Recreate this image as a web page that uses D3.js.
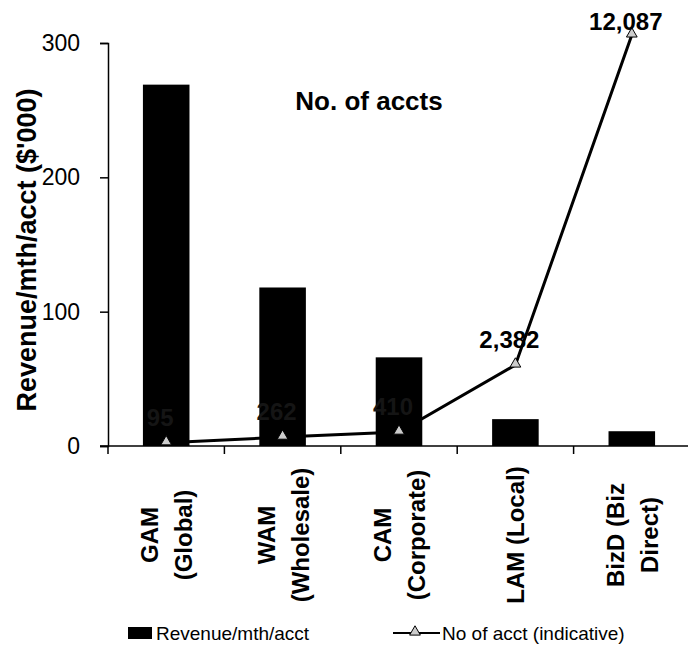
<!DOCTYPE html>
<html>
<head>
<meta charset="utf-8">
<script src="https://cdn.jsdelivr.net/npm/d3@7"></script>
<style>
body { margin: 0; background: #fff; }
svg { display: block; font-family: "Liberation Sans", Arial, sans-serif; }
</style>
</head>
<body>
<svg id="chart" width="688" height="654"></svg>
<script>
"use strict"

// data
var categories = ["GAM (Global)", "WAM (Wholesale)", "CAM (Corporate)", "LAM (Local)", "BizD (Biz Direct)"];
var catLines = [["GAM", "(Global)"], ["WAM", "(Wholesale)"], ["CAM", "(Corporate)"], ["LAM (Local)"], ["BizD (Biz", "Direct)"]];
var revenue = [269, 118, 66, 20, 11];
var accounts = [95, 262, 410, 2382, 12087];
var yTicks = [0, 100, 200, 300];

var svg = d3.select("#chart");

var x = d3.scaleBand()
	.domain(categories)
	.range([108, 690])
	.paddingInner(0.6)
	.paddingOuter(0.3);
var y = d3.scaleLinear().domain([0, 300]).range([446, 43]);
// hidden secondary scale for the account counts
var y2 = d3.scaleLinear().domain([0, 11850]).range([446, 43]);

// bars
svg.append("g").selectAll("rect")
	.data(revenue)
	.enter().append("rect")
	.attr("x", function(d, i) { return x(categories[i]); })
	.attr("y", function(d) { return y(d); })
	.attr("width", x.bandwidth())
	.attr("height", function(d) { return y(0) - y(d); })
	.attr("fill", "#000");

// y axis
var yAxis = svg.append("g")
	.attr("transform", "translate(108,0)")
	.call(d3.axisLeft(y).tickValues(yTicks).tickSize(8).tickPadding(20));
yAxis.select(".domain").attr("stroke", "#000").attr("stroke-width", 1.5);
yAxis.selectAll(".tick line").attr("stroke-width", 1.5);
yAxis.selectAll(".tick text")
	.style("font-size", "23px")
	.attr("fill", "#000");

svg.append("text")
	.attr("transform", "translate(36,250) rotate(-90)")
	.attr("text-anchor", "middle")
	.style("font-size", "27px")
	.style("font-weight", "bold")
	.text("Revenue/mth/acct ($'000)");

// x axis with ticks on band edges
var step = x.step();
var edges = categories.map(function(c) { return x(c) - (step - x.bandwidth()) / 2; });
edges.push(edges[edges.length - 1] + step);
var xg = svg.append("g");
xg.append("line")
	.attr("x1", 100).attr("x2", edges[edges.length - 1])
	.attr("y1", y(0)).attr("y2", y(0))
	.attr("stroke", "#000").attr("stroke-width", 1.5);
xg.selectAll("line.tk")
	.data(edges)
	.enter().append("line").attr("class", "tk")
	.attr("x1", function(d) { return d; }).attr("x2", function(d) { return d; })
	.attr("y1", y(0)).attr("y2", y(0) + 8)
	.attr("stroke", "#000").attr("stroke-width", 1.5);

// category labels, rotated
var catG = svg.append("g").selectAll("g")
	.data(catLines)
	.enter().append("g")
	.attr("transform", function(d, i) {
		return "translate(" + (x(categories[i]) + x.bandwidth() / 2) + ",535) rotate(-90)";
	});
catG.each(function(lines) {
	var g = d3.select(this);
	var n = lines.length;
	lines.forEach(function(t, j) {
		g.append("text")
			.attr("x", 0)
			.attr("y", (j - (n - 1) / 2) * 34 + 9)
			.attr("text-anchor", "middle")
			.style("font-size", "24px")
			.style("font-weight", "bold")
			.text(t);
	});
});

// account line
var cx = function(d, i) { return x(categories[i]) + x.bandwidth() / 2; };
var line = d3.line()
	.x(function(d, i) { return cx(d, i); })
	.y(function(d) { return y2(d); });
svg.append("path")
	.datum(accounts)
	.attr("d", line)
	.attr("fill", "none")
	.attr("stroke", "#000")
	.attr("stroke-width", 3);

var tri = d3.symbol().type(d3.symbolTriangle).size(50);
svg.append("g").selectAll("path")
	.data(accounts)
	.enter().append("path")
	.attr("d", tri)
	.attr("transform", function(d, i) { return "translate(" + cx(d, i) + "," + (y2(d) - 1) + ")"; })
	.attr("fill", "#ccc")
	.attr("stroke", "#000")
	.attr("stroke-width", 1);

// value labels (the small ones sit dark on the bars)
svg.append("g").selectAll("text")
	.data(accounts)
	.enter().append("text")
	.attr("x", function(d, i) { return cx(d, i) - 6; })
	.attr("y", function(d) { return Math.max(y2(d) - 17, 30); })
	.attr("text-anchor", "middle")
	.style("font-size", "24px")
	.style("font-weight", "bold")
	.attr("fill", function(d, i) { return y2(d) > y(revenue[i]) ? "#151515" : "#000"; })
	.text(function(d) { return d3.format(",")(d); });

svg.append("text")
	.attr("x", 369)
	.attr("y", 110)
	.attr("text-anchor", "middle")
	.style("font-size", "26px")
	.style("font-weight", "bold")
	.text("No. of accts");

// legend
var lg = svg.append("g").attr("transform", "translate(0,633)");
lg.append("rect")
	.attr("x", 128).attr("y", -6)
	.attr("width", 24).attr("height", 12)
	.attr("fill", "#000");
lg.append("text")
	.attr("x", 156).attr("y", 7)
	.style("font-size", "19px")
	.text("Revenue/mth/acct");
lg.append("line")
	.attr("x1", 393).attr("x2", 440)
	.attr("y1", 0).attr("y2", 0)
	.attr("stroke", "#000").attr("stroke-width", 2);
lg.append("path")
	.attr("d", tri)
	.attr("transform", "translate(415,-1)")
	.attr("fill", "#ccc")
	.attr("stroke", "#000");
lg.append("text")
	.attr("x", 442).attr("y", 7)
	.style("font-size", "19px")
	.text("No of acct (indicative)");
</script>
</body>
</html>
